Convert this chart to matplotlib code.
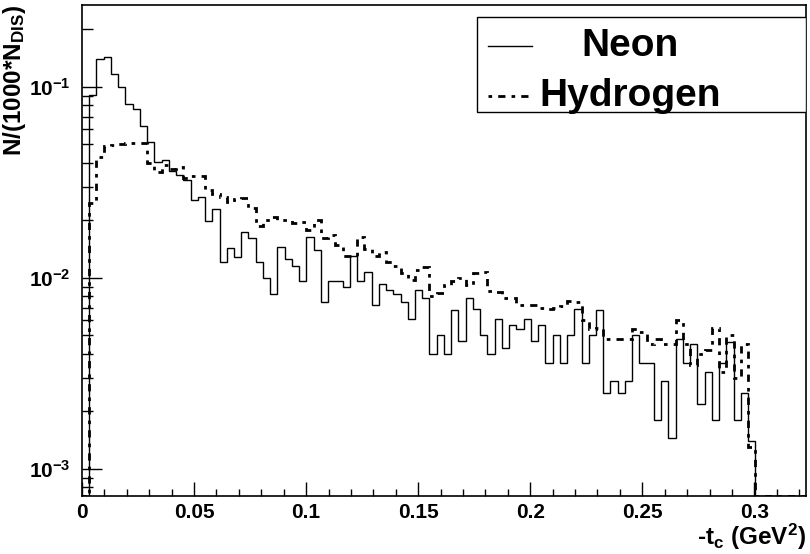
import numpy as np
import matplotlib
matplotlib.use('Agg')
import matplotlib.pyplot as plt
from matplotlib.patches import Rectangle
from matplotlib.ticker import LogLocator, FuncFormatter, MultipleLocator

# --- data: 100 bins from 0 to 0.323 in -t_c, per 1000 DIS events ---
bin_lo, bin_hi, n_bins = 0.0, 0.323, 100

neon = [0.0,
        0.0908, 0.1396, 0.143, 0.117, 0.0996, 0.0812, 0.0764, 0.0627, 0.0518, 0.0404,
        0.0415, 0.0365, 0.0346, 0.0326, 0.0256, 0.0267, 0.0199, 0.0229, 0.0121, 0.0143,
        0.0128, 0.0175, 0.0161, 0.0121, 0.00995, 0.0082, 0.0146, 0.0125, 0.0115, 0.0096,
        0.0164, 0.0140, 0.0075, 0.0097, 0.0097, 0.0090, 0.0130, 0.0096, 0.0107, 0.0072,
        0.0093, 0.0087, 0.0082, 0.0075, 0.0061, 0.0086, 0.0079, 0.0040, 0.0050, 0.0040,
        0.0068, 0.0047, 0.0079, 0.0069, 0.0050, 0.0040, 0.0061, 0.0043, 0.0057, 0.0054,
        0.0061, 0.0047, 0.0057, 0.0036, 0.0050, 0.0036, 0.0050, 0.0069, 0.0036, 0.0050,
        0.0068, 0.0025, 0.0029, 0.0025, 0.0029, 0.0050, 0.0036, 0.0036, 0.0018, 0.0029,
        0.00145, 0.0048, 0.0036, 0.0045, 0.0022, 0.0032, 0.0018, 0.0036, 0.0046, 0.0018,
        0.0025, 0.0014,
        0.0, 0.0, 0.0, 0.0, 0.0, 0.0, 0.0]

hydrogen = [0.0,
            0.0247, 0.0432, 0.0488, 0.0497, 0.0503, 0.0507, 0.0510, 0.0510, 0.0400, 0.0360,
            0.0390, 0.0370, 0.0380, 0.0334, 0.0340, 0.0340, 0.0289, 0.0275, 0.0267, 0.0251,
            0.0258, 0.0262, 0.0232, 0.0186, 0.0201, 0.0209, 0.0200, 0.0200, 0.0193, 0.0197,
            0.0179, 0.0201, 0.0161, 0.0168, 0.0149, 0.0130, 0.0130, 0.0163, 0.0142, 0.0130,
            0.0137, 0.0121, 0.0115, 0.0106, 0.0098, 0.0110, 0.0114, 0.0080, 0.0083, 0.0092,
            0.0096, 0.0100, 0.0092, 0.0106, 0.0108, 0.0085, 0.0084, 0.0079, 0.0079, 0.0072,
            0.0072, 0.0072, 0.0070, 0.0069, 0.0070, 0.0071, 0.0076, 0.0075, 0.0060, 0.0054,
            0.0055, 0.0048, 0.0048, 0.0048, 0.0048, 0.0054, 0.0052, 0.0045, 0.0048, 0.0045,
            0.0045, 0.0060, 0.0045, 0.0035, 0.0040, 0.0042, 0.0055, 0.0032, 0.0050, 0.0030,
            0.0045, 0.0013,
            0.0, 0.0, 0.0, 0.0, 0.0, 0.0, 0.0]

legend_labels = ['Neon', 'Hydrogen']
y_lo, y_hi = 7.22e-4, 0.2687

# --- style: ROOT-like bold Helvetica ---
plt.rcParams['font.family'] = ['Liberation Sans', 'DejaVu Sans']
plt.rcParams['font.weight'] = 'bold'
plt.rcParams['mathtext.fontset'] = 'custom'
plt.rcParams['mathtext.bf'] = 'Liberation Sans:bold'
plt.rcParams['mathtext.rm'] = 'Liberation Sans:bold'
plt.rcParams['mathtext.it'] = 'Liberation Sans:bold'

hyd_style = (0, (1.3, 2.2, 2.6, 2.2))

fig = plt.figure(figsize=(8.1, 5.54), dpi=100)
ax = fig.add_axes([0.1012, 0.1047, 0.8938, 0.8863])

edges = np.linspace(bin_lo, bin_hi, n_bins + 1)
# ROOT draws empty bins on the bottom of a log frame
neon_v = np.clip(np.array(neon), y_lo, None)
hyd_v = np.clip(np.array(hydrogen), y_lo, None)

ax.stairs(neon_v, edges, color='black', lw=1.0)
ax.stairs(hyd_v, edges, color='black', lw=2.0, linestyle=hyd_style)

ax.set_yscale('log')
ax.set_xlim(bin_lo, bin_hi)
ax.set_ylim(y_lo, y_hi)

# ticks: inside, bottom and left only
ax.xaxis.set_major_locator(MultipleLocator(0.05))
ax.xaxis.set_minor_locator(MultipleLocator(0.01))
ax.xaxis.set_major_formatter(FuncFormatter(lambda v, p: '%g' % round(v, 3)))
ax.yaxis.set_major_locator(LogLocator(base=10, numticks=10))
ax.yaxis.set_minor_locator(LogLocator(base=10, subs=np.arange(2, 10), numticks=10))
ax.yaxis.set_major_formatter(FuncFormatter(lambda v, p: r'$\mathbf{10^{%d}}$' % round(np.log10(v))))
ax.yaxis.set_minor_formatter(FuncFormatter(lambda v, p: ''))

ax.tick_params(axis='x', which='major', direction='in', length=10, width=1, pad=5, labelsize=15)
ax.tick_params(axis='x', which='minor', direction='in', length=5, width=1)
ax.tick_params(axis='y', which='major', direction='in', length=14.5, width=1, pad=8, labelsize=15)
ax.tick_params(axis='y', which='minor', direction='in', length=8, width=1)
for s in ax.spines.values():
    s.set_linewidth(1.2)

# axis titles
ax.set_xlabel(r'-t$_{\mathbf{c}}$ (GeV$^{\mathbf{2}}$)', fontsize=17.5, fontweight='bold', loc='right')
ax.xaxis.set_label_coords(1.0, -0.052)
ax.set_ylabel(r'N/(1000*N$_{\mathbf{DIS}}$)', fontsize=17.5, fontweight='bold', loc='top')
ax.yaxis.set_label_coords(-0.075, 1.0)

# legend box, drawn by hand to get ROOT's centred labels
ax.add_patch(Rectangle((0.545, 0.782), 0.455, 0.194, transform=ax.transAxes,
                       facecolor='white', edgecolor='black', lw=1.0, zorder=5))
ax.plot([0.561, 0.622], [0.917, 0.917], transform=ax.transAxes, color='black', lw=1.0, zorder=6)
ax.plot([0.561, 0.622], [0.815, 0.815], transform=ax.transAxes, color='black', lw=2.0,
        linestyle=hyd_style, zorder=6)
ax.text(0.757, 0.917, legend_labels[0], transform=ax.transAxes, ha='center', va='center',
        fontsize=28, fontweight='bold', zorder=6)
ax.text(0.757, 0.815, legend_labels[1], transform=ax.transAxes, ha='center', va='center',
        fontsize=28, fontweight='bold', zorder=6)

fig.savefig('out.png', dpi=100)
